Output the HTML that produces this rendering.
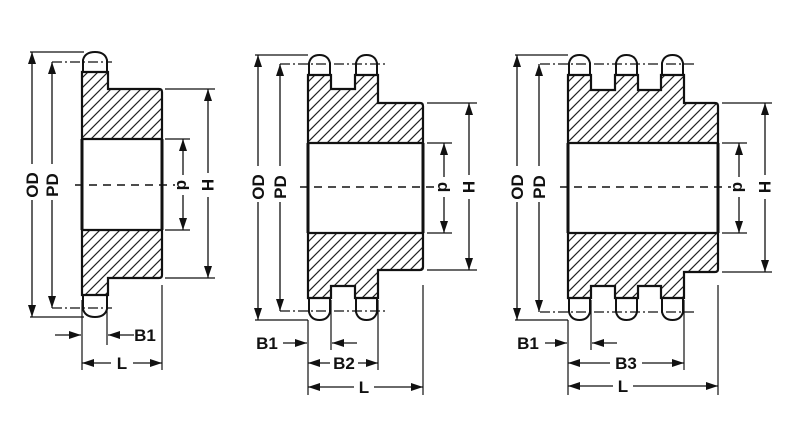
<!DOCTYPE html>
<html><head><meta charset="utf-8"><style>
html,body{margin:0;padding:0;background:#fff;}
svg{display:block}
text{font-family:"Liberation Sans",sans-serif;font-weight:bold;font-size:17px;fill:#111}
</style></head><body>
<svg width="798" height="439" viewBox="0 0 798 439" xmlns="http://www.w3.org/2000/svg">
<defs>
<pattern id="h" patternUnits="userSpaceOnUse" width="10" height="10">
<path d="M-2,12 L12,-2 M-2,2 L2,-2 M8,12 L12,8" stroke="#222" stroke-width="1.2"/>
</pattern>
<marker id="a" viewBox="0 0 12 8" refX="12" refY="4" markerWidth="12" markerHeight="8" markerUnits="userSpaceOnUse" orient="auto-start-reverse">
<path d="M0,0 L12,4 L0,8 Z" fill="#111"/>
</marker>
</defs>
<g fill="none" stroke="#111">
<path d="M82,72 H108 V89 H159 Q162,89 162,92 V139 H82 Z" fill="url(#h)" stroke-width="2.2"/>
<path d="M82,230 H162 V275 Q162,278 159,278 H108 V295 H82 Z" fill="url(#h)" stroke-width="2.2"/>
<path d="M83,72 V60 Q85,52 95,52 Q105,52 107,60 V72" stroke-width="2"/>
<path d="M83,295 V309 Q85,317 95,317 Q105,317 107,309 V295" stroke-width="2"/>
<path d="M82,139 V230 M162,139 V230" stroke-width="3"/>
<path d="M75,185 H190" stroke-width="1.5" stroke-dasharray="8 6"/>
<path d="M52,62 H112 M52,308 H112" stroke-width="1.2" stroke-dasharray="10 3 2 3"/>
<path d="M30,52 H84 M30,317 H84" stroke-width="1.2"/>
<path d="M32,52 V317" stroke-width="1.3" marker-start="url(#a)" marker-end="url(#a)"/>
<path d="M52,62 V308" stroke-width="1.3" marker-start="url(#a)" marker-end="url(#a)"/>
<path d="M165,139 H190 M165,230 H190 M165,89 H215 M165,278 H215" stroke-width="1.2"/>
<path d="M183,139 V230" stroke-width="1.3" marker-start="url(#a)" marker-end="url(#a)"/>
<path d="M208,89 V278" stroke-width="1.3" marker-start="url(#a)" marker-end="url(#a)"/>
<path d="M82,300 V370 M107,300 V345 M162,285 V370" stroke-width="1.2"/>
<path d="M55,335 H81" stroke-width="1.3" marker-end="url(#a)"/>
<path d="M134,335 H108" stroke-width="1.3" marker-end="url(#a)"/>
<path d="M82,363 H162" stroke-width="1.3" marker-start="url(#a)" marker-end="url(#a)"/>

<path d="M308,75 H331 V89 H355 V75 H378 V103 H420 Q423,103 423,106 V143 H308 Z" fill="url(#h)" stroke-width="2.2"/>
<path d="M308,233 H423 V267 Q423,270 420,270 H378 V298 H355 V286 H331 V298 H308 Z" fill="url(#h)" stroke-width="2.2"/>
<path d="M309,75 V63 Q311,55 319.5,55 Q328,55 330,63 V75 M356,75 V63 Q358,55 366.5,55 Q375,55 377,63 V75" stroke-width="2"/>
<path d="M309,298 V312 Q311,320 319.5,320 Q328,320 330,312 V298 M356,298 V312 Q358,320 366.5,320 Q375,320 377,312 V298" stroke-width="2"/>
<path d="M308,143 V233 M423,143 V233" stroke-width="3"/>
<path d="M300,187 H450" stroke-width="1.5" stroke-dasharray="8 6"/>
<path d="M280,64 H385 M280,311 H385" stroke-width="1.2" stroke-dasharray="10 3 2 3"/>
<path d="M255,55 H308 M255,320 H308" stroke-width="1.2"/>
<path d="M258,55 V320" stroke-width="1.3" marker-start="url(#a)" marker-end="url(#a)"/>
<path d="M280,64 V311" stroke-width="1.3" marker-start="url(#a)" marker-end="url(#a)"/>
<path d="M427,143 H452 M427,233 H452 M427,103 H477 M427,270 H477" stroke-width="1.2"/>
<path d="M444,143 V233" stroke-width="1.3" marker-start="url(#a)" marker-end="url(#a)"/>
<path d="M469,103 V270" stroke-width="1.3" marker-start="url(#a)" marker-end="url(#a)"/>
<path d="M308,320 V395 M331,300 V350 M378,300 V370 M423,285 V395" stroke-width="1.2"/>
<path d="M283,343 H307" stroke-width="1.3" marker-end="url(#a)"/>
<path d="M357,343 H332" stroke-width="1.3" marker-end="url(#a)"/>
<path d="M308,363 H378" stroke-width="1.3" marker-start="url(#a)" marker-end="url(#a)"/>
<path d="M308,387 H423" stroke-width="1.3" marker-start="url(#a)" marker-end="url(#a)"/>

<path d="M568,75 H591 V90 H615 V75 H638 V90 H661 V75 H684 V103 H715 Q718,103 718,106 V143 H568 Z" fill="url(#h)" stroke-width="2.2"/>
<path d="M568,233 H718 V269 Q718,272 715,272 H684 V298 H661 V286 H638 V298 H615 V286 H591 V298 H568 Z" fill="url(#h)" stroke-width="2.2"/>
<path d="M569,75 V63 Q571,55 579.5,55 Q588,55 590,63 V75 M616,75 V63 Q618,55 626.5,55 Q635,55 637,63 V75 M662,75 V63 Q664,55 672.5,55 Q681,55 683,63 V75" stroke-width="2"/>
<path d="M569,298 V312 Q571,320 579.5,320 Q588,320 590,312 V298 M616,298 V312 Q618,320 626.5,320 Q635,320 637,312 V298 M662,298 V312 Q664,320 672.5,320 Q681,320 683,312 V298" stroke-width="2"/>
<path d="M568,143 V233 M718,143 V233" stroke-width="3"/>
<path d="M560,187 H745" stroke-width="1.5" stroke-dasharray="8 6"/>
<path d="M540,64 H695 M540,312 H695" stroke-width="1.2" stroke-dasharray="10 3 2 3"/>
<path d="M515,55 H568 M515,320 H568" stroke-width="1.2"/>
<path d="M517,55 V320" stroke-width="1.3" marker-start="url(#a)" marker-end="url(#a)"/>
<path d="M539,64 V312" stroke-width="1.3" marker-start="url(#a)" marker-end="url(#a)"/>
<path d="M722,143 H747 M722,233 H747 M722,103 H772 M722,272 H772" stroke-width="1.2"/>
<path d="M739,143 V233" stroke-width="1.3" marker-start="url(#a)" marker-end="url(#a)"/>
<path d="M765,103 V272" stroke-width="1.3" marker-start="url(#a)" marker-end="url(#a)"/>
<path d="M568,320 V395 M591,300 V350 M684,300 V370 M718,285 V395" stroke-width="1.2"/>
<path d="M545,343 H567" stroke-width="1.3" marker-end="url(#a)"/>
<path d="M617,343 H592" stroke-width="1.3" marker-end="url(#a)"/>
<path d="M568,363 H684" stroke-width="1.3" marker-start="url(#a)" marker-end="url(#a)"/>
<path d="M568,386 H718" stroke-width="1.3" marker-start="url(#a)" marker-end="url(#a)"/>
</g>

<g fill="#fff">
<rect x="23" y="164" width="18" height="36"/><rect x="43" y="164" width="18" height="36"/>
<rect x="175" y="175" width="16" height="20"/><rect x="199" y="173" width="18" height="24"/>
<rect x="249" y="166" width="18" height="36"/><rect x="271" y="166" width="18" height="36"/>
<rect x="436" y="177" width="16" height="20"/><rect x="460" y="175" width="18" height="24"/>
<rect x="508" y="166" width="18" height="36"/><rect x="530" y="166" width="18" height="36"/>
<rect x="731" y="177" width="16" height="20"/><rect x="756" y="175" width="18" height="24"/>
<rect x="111" y="353" width="22" height="20"/><rect x="330" y="353" width="28" height="20"/>
<rect x="354" y="377" width="20" height="20"/><rect x="610" y="353" width="32" height="20"/>
<rect x="613" y="376" width="20" height="20"/>
</g>
<g>
<text transform="translate(38,185) rotate(-90)" text-anchor="middle">OD</text>
<text transform="translate(58,185) rotate(-90)" text-anchor="middle">PD</text>
<text transform="translate(177,185) rotate(90)" text-anchor="middle">d</text>
<text transform="translate(202,185) rotate(90)" text-anchor="middle">H</text>
<text x="145" y="341" text-anchor="middle">B1</text>
<text x="122" y="369" text-anchor="middle">L</text>

<text transform="translate(264,187) rotate(-90)" text-anchor="middle">OD</text>
<text transform="translate(286,187) rotate(-90)" text-anchor="middle">PD</text>
<text transform="translate(438,187) rotate(90)" text-anchor="middle">d</text>
<text transform="translate(463,187) rotate(90)" text-anchor="middle">H</text>
<text x="267" y="349" text-anchor="middle">B1</text>
<text x="344" y="369" text-anchor="middle">B2</text>
<text x="364" y="393" text-anchor="middle">L</text>

<text transform="translate(523,187) rotate(-90)" text-anchor="middle">OD</text>
<text transform="translate(545,187) rotate(-90)" text-anchor="middle">PD</text>
<text transform="translate(733,187) rotate(90)" text-anchor="middle">d</text>
<text transform="translate(759,187) rotate(90)" text-anchor="middle">H</text>
<text x="528" y="349" text-anchor="middle">B1</text>
<text x="626" y="369" text-anchor="middle">B3</text>
<text x="623" y="392" text-anchor="middle">L</text>
</g>
</svg>
</body></html>
